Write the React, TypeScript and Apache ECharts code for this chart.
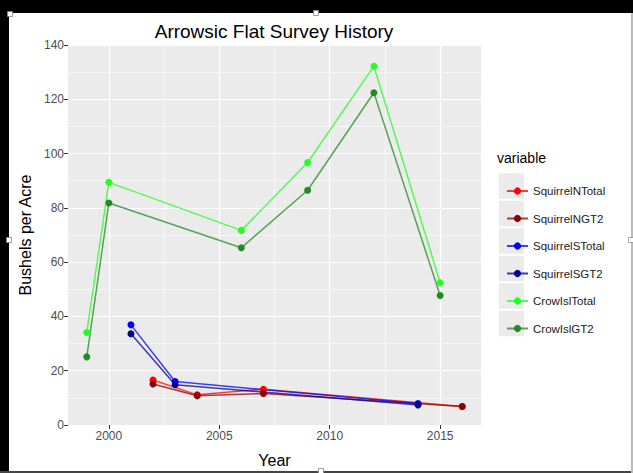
import React, { useEffect, useRef } from "react";
import * as echarts from "echarts";

const seriesNames = ["SquirrelNTotal", "SquirrelNGT2", "SquirrelSTotal", "SquirrelSGT2", "CrowIslTotal", "CrowIslGT2"];
const seriesColors = ["#ff0000", "#8b0000", "#0000ff", "#00008b", "#22ff22", "#228b22"];

const squirrelNYears = [2002, 2004, 2007, 2016];
const squirrelNTotal = [16.6, 11.1, 13.2, 6.8];
const squirrelNGT2 = [15.1, 10.8, 11.6, 6.8];

const squirrelSYears = [2001, 2003, 2014];
const squirrelSTotal = [36.9, 16.0, 7.9];
const squirrelSGT2 = [33.6, 14.8, 7.4];

const crowYears = [1999, 2000, 2006, 2009, 2012, 2015];
const crowIslTotal = [34.1, 89.4, 71.7, 96.7, 132.2, 52.4];
const crowIslGT2 = [25.1, 81.8, 65.3, 86.5, 122.4, 47.7];

const xMajorTicks = [2000, 2005, 2010, 2015];
const xMinorTicks = [2002.5, 2007.5, 2012.5];

const pairs = (xs: number[], ys: number[]) => xs.map((x, i) => [x, ys[i]]);

export default function App() {
  const ref = useRef<HTMLDivElement>(null);
  useEffect(() => {
    if (!ref.current) return;
    const chart = echarts.init(ref.current, null, { renderer: "svg" });
    const font = "Liberation Sans, Arial, sans-serif";
    const dataSets = [
      pairs(squirrelNYears, squirrelNTotal),
      pairs(squirrelNYears, squirrelNGT2),
      pairs(squirrelSYears, squirrelSTotal),
      pairs(squirrelSYears, squirrelSGT2),
      pairs(crowYears, crowIslTotal),
      pairs(crowYears, crowIslGT2),
    ];
    const firstCenter = 186;
    const legendStep = 27.5;
    const textH = 14;
    const keyRects = seriesNames.map((_, i) => ({
      type: "rect",
      z: 1,
      shape: { x: 499, y: firstCenter + i * legendStep - 12.75, width: 25, height: 25.5 },
      style: { fill: "#ebebeb" },
    }));
    const handle = (x: number, y: number) => ({
      type: "rect",
      z: 10,
      shape: { x: x - 2.5, y: y - 2.5, width: 5, height: 5 },
      style: { fill: "#ffffff", stroke: "#888", lineWidth: 0.8 },
    });
    chart.setOption({
      animation: false,
      backgroundColor: "#ffffff",
      grid: { left: 68, top: 45, width: 413, height: 382, show: true, backgroundColor: "#ebebeb", borderWidth: 0 },
      xAxis: {
        type: "value",
        min: 1998.15,
        max: 2016.85,
        name: "Year",
        nameLocation: "middle",
        nameGap: 27,
        nameTextStyle: { fontSize: 16, color: "#000", fontFamily: font },
        axisLine: { show: false },
        axisTick: { show: true, length: 4, lineStyle: { color: "#333" }, customValues: xMajorTicks },
        axisLabel: {
          fontSize: 12,
          color: "#4d4d4d",
          margin: 5,
          fontFamily: font,
          customValues: xMajorTicks,
          formatter: (v: number) => String(Math.round(v)),
        },
        splitLine: { show: false },
      },
      yAxis: {
        type: "value",
        min: 0,
        max: 140,
        interval: 20,
        name: "Bushels per Acre",
        nameLocation: "middle",
        nameGap: 31,
        nameTextStyle: { fontSize: 16, color: "#000", fontFamily: font },
        axisLine: { show: false },
        axisTick: { show: true, length: 4, lineStyle: { color: "#333" } },
        axisLabel: { fontSize: 12, color: "#4d4d4d", margin: 4, fontFamily: font },
        splitLine: { show: true, lineStyle: { color: "#ffffff", width: 1.2 } },
        minorTick: { show: false, splitNumber: 2 },
        minorSplitLine: { show: true, lineStyle: { color: "#ffffff", width: 0.6 } },
      },
      legend: {
        data: seriesNames,
        orient: "vertical",
        left: 501,
        top: firstCenter - textH / 2,
        itemWidth: 21,
        itemHeight: 9,
        itemGap: legendStep - textH,
        textStyle: { fontSize: 11.5, color: "#1a1a1a", fontFamily: font, lineHeight: textH },
        selectedMode: false,
      },
      graphic: [
        ...keyRects,
        {
          type: "text",
          z: 5,
          x: 274,
          y: 31,
          style: { text: "Arrowsic Flat Survey History", font: `19px ${font}`, fill: "#000", textAlign: "center", textVerticalAlign: "middle" },
        },
        {
          type: "text",
          z: 5,
          x: 497,
          y: 158,
          style: { text: "variable", font: `14px ${font}`, fill: "#000", textAlign: "left", textVerticalAlign: "middle" },
        },
        { type: "rect", z: 9, shape: { x: 0, y: 0, width: 633, height: 13 }, style: { fill: "#000" } },
        { type: "rect", z: 9, shape: { x: 0, y: 0, width: 9, height: 473 }, style: { fill: "#000" } },
        { type: "rect", z: 9, shape: { x: 0, y: 471, width: 633, height: 2 }, style: { fill: "#444" } },
        { type: "rect", z: 9, shape: { x: 631, y: 13, width: 2, height: 460 }, style: { fill: "#bbb" } },
        handle(10, 14),
        handle(316, 13),
        handle(9, 240),
        handle(631, 240),
        handle(321, 471),
      ],
      series: [
        {
          type: "line",
          name: "__grid",
          data: [],
          z: 1,
          silent: true,
          markLine: {
            silent: true,
            z: 1,
            symbol: "none",
            label: { show: false },
            animation: false,
            data: [
              ...xMajorTicks.map((v) => ({ xAxis: v, lineStyle: { color: "#ffffff", width: 1.2, type: "solid" } })),
              ...xMinorTicks.map((v) => ({ xAxis: v, lineStyle: { color: "#ffffff", width: 0.6, type: "solid" } })),
            ],
          },
        },
        ...seriesNames.map((name, i) => ({
          type: "line",
          name,
          data: dataSets[i],
          z: 3,
          color: seriesColors[i],
          symbol: "circle",
          symbolSize: 7,
          showSymbol: true,
          lineStyle: { width: 1.5, opacity: 0.75, color: seriesColors[i] },
          itemStyle: { color: seriesColors[i] },
          emphasis: { disabled: true },
        })),
      ],
    });
    return () => chart.dispose();
  }, []);
  return <div ref={ref} style={{ position: "absolute", left: 0, top: 0, width: 633, height: 473 }} />;
}
